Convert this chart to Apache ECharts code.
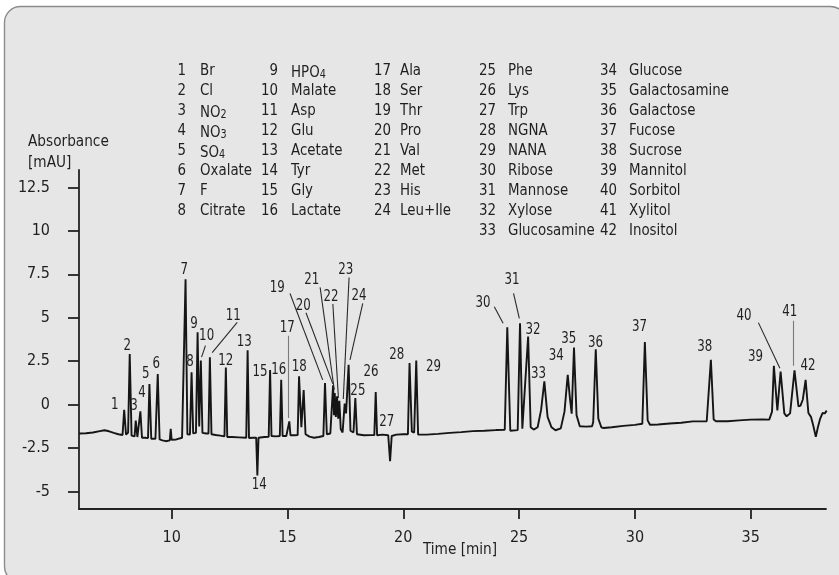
<!DOCTYPE html>
<html>
<head>
<meta charset="utf-8">
<script src="https://cdn.jsdelivr.net/npm/echarts@6/dist/echarts.min.js"></script>
<style>
html,body{margin:0;padding:0;background:#ffffff;}
#chart{width:839px;height:575px;}
</style>
</head>
<body>
<div id="chart"></div>
<script>
// ---------- DATA ----------
// Chromatogram trace: [time (min), absorbance (mAU)]
const tracePoints = [
  [6.0,-1.66],[6.3,-1.64],[6.6,-1.60],[6.9,-1.52],[7.1,-1.47],[7.3,-1.53],[7.5,-1.62],[7.7,-1.70],[7.88,-1.74],
  [7.95,-0.29],[8.03,-1.72],[8.12,-1.6],[8.19,2.92],[8.27,-1.78],[8.40,-1.82],[8.45,-0.92],[8.52,-1.86],
  [8.60,-1.86],[8.65,-0.38],[8.72,-1.90],[8.85,-1.9],[8.98,-1.92],[9.04,1.19],[9.12,-1.96],[9.30,-1.96],
  [9.40,1.76],[9.48,-2.0],[9.6,-2.05],[9.75,-2.1],[9.92,-2.05],[9.96,-1.39],[10.0,-2.02],[10.2,-2.0],
  [10.45,-1.9],[10.53,-1.85],[10.60,7.21],[10.68,-1.7],[10.79,-1.72],[10.86,1.87],[10.93,-1.65],[11.05,-1.62],
  [11.12,4.17],[11.19,-1.25],[11.26,2.54],[11.33,-1.62],[11.5,-1.66],[11.59,-1.66],[11.65,2.73],[11.72,-1.7],
  [11.9,-1.74],[12.1,-1.78],[12.28,-1.82],[12.34,2.14],[12.40,-1.86],[12.6,-1.86],[12.9,-1.88],[13.22,-1.9],
  [13.28,3.13],[13.34,-1.92],[13.5,-1.9],[13.65,-1.9],[13.70,-4.07],[13.75,-1.9],[14.0,-1.86],[14.19,-1.85],
  [14.25,2.0],[14.31,-1.8],[14.5,-1.82],[14.67,-1.8],[14.73,1.43],[14.79,-1.8],[14.95,-1.8],[15.03,-1.8],
  [15.08,-0.96],[15.13,-1.76],[15.3,-1.76],[15.44,-1.75],[15.50,1.64],[15.60,-1.3],[15.70,0.84],[15.78,-1.7],
  [15.95,-1.84],[16.15,-1.9],[16.35,-1.86],[16.55,-1.8],[16.62,1.24],[16.70,-1.7],[16.85,-1.66],[16.97,1.11],
  [17.01,-0.6],[17.04,0.67],[17.09,-0.7],[17.14,0.48],[17.19,-0.8],[17.24,0.23],[17.30,-1.4],[17.38,-1.6],
  [17.47,0.06],[17.53,-0.5],[17.64,2.29],[17.72,-1.5],[17.85,-1.6],[17.93,0.38],[18.0,-1.7],[18.3,-1.76],
  [18.6,-1.75],[18.75,-1.75],[18.81,0.73],[18.87,-1.76],[19.1,-1.72],[19.35,-1.76],[19.43,-3.25],[19.50,-1.8],
  [19.7,-1.72],[20.0,-1.7],[20.20,-1.7],[20.27,2.39],[20.37,-1.55],[20.47,-1.6],[20.56,2.54],[20.64,-1.72],
  [21.0,-1.72],[21.5,-1.68],[22.0,-1.62],[22.5,-1.58],[23.0,-1.52],[23.5,-1.5],[24.0,-1.46],[24.38,-1.44],
  [24.49,4.45],[24.62,-1.5],[24.94,-1.46],[25.04,4.68],[25.14,-1.38],[25.22,-1.42],[25.39,3.92],[25.50,-1.3],
  [25.63,-1.43],[25.80,-1.3],[25.95,-0.3],[26.09,1.34],[26.23,-0.7],[26.40,-1.3],[26.57,-1.47],[26.80,-1.36],
  [26.96,-0.4],[27.10,1.72],[27.20,0.3],[27.27,-0.52],[27.37,3.29],[27.48,-0.6],[27.62,-1.24],[27.9,-1.26],
  [28.15,-1.24],[28.20,-1.0],[28.31,3.19],[28.42,-0.8],[28.55,-1.3],[28.65,-1.34],[29.0,-1.3],[29.5,-1.22],
  [30.0,-1.16],[30.32,-1.1],[30.43,3.61],[30.55,-0.9],[30.65,-1.15],[31.0,-1.14],[31.5,-1.08],[32.0,-1.04],
  [32.5,-0.96],[33.1,-0.95],[33.18,-0.9],[33.28,2.58],[33.40,-0.85],[33.5,-0.95],[34.0,-0.95],[34.5,-0.9],
  [35.0,-0.86],[35.5,-0.85],[35.80,-0.86],[35.92,-0.4],[36.0,2.24],[36.15,-0.33],[36.29,1.91],[36.45,-0.5],
  [36.55,-0.67],[36.7,-0.5],[36.89,1.97],[37.06,-0.10],[37.15,-0.05],[37.25,0.3],[37.37,1.43],[37.49,-0.48],
  [37.6,-0.7],[37.7,-1.2],[37.81,-1.85],[37.9,-1.3],[38.0,-0.8],[38.1,-0.48],[38.2,-0.5],[38.28,-0.34]
];

// Peak number labels: [label, time, absorbance] (label anchor in data units)
const peakLabels = [
  ['1',7.54,0.0],['2',8.08,3.40],['3',8.38,-0.04],['4',8.72,0.67],['5',8.88,1.76],['6',9.33,2.37],
  ['7',10.54,7.78],['8',10.79,2.48],['9',10.96,4.63],['10',11.51,3.97],['11',12.66,5.12],['12',12.34,2.52],
  ['13',13.13,3.63],['14',13.78,-4.63],['15',13.81,1.89],['16',14.62,1.98],['17',14.99,4.40],['18',15.51,2.16],
  ['19',14.56,6.75],['20',15.68,5.69],['21',16.05,7.21],['22',16.88,6.21],['23',17.52,7.78],['24',18.09,6.27],
  ['25',18.04,0.82],['26',18.61,1.89],['27',19.29,-0.96],['28',19.72,2.87],['29',21.30,2.20],['30',23.44,5.83],
  ['31',24.69,7.17],['32',25.60,4.30],['33',25.84,1.76],['34',26.60,2.81],['35',27.14,3.78],['36',28.30,3.54],
  ['37',30.20,4.46],['38',33.02,3.34],['39',35.21,2.74],['40',34.71,5.12],['41',36.68,5.32],['42',37.47,2.24]
];

// Leader lines from a label to its peak: [peak, t1, v1, t2, v2]
const leaderLines = [
  ['10',11.46,3.40,11.29,2.74],['11',12.83,4.74,11.75,3.00],['17',15.04,3.96,15.04,-0.76],
  ['19',15.11,6.40,16.52,1.43],['20',15.80,5.29,16.96,1.20],['21',16.41,6.75,17.02,0.86],
  ['22',16.96,5.79,17.20,0.38],['23',17.66,7.32,17.41,0.33],['24',18.25,5.83,17.70,2.58],
  ['30',23.93,5.64,24.31,4.68],['31',24.76,6.40,25.01,4.97],['40',35.33,4.72,36.26,2.10],
  ['41',36.83,4.83,36.83,2.24]
];
const greyLeaders = ['17','41'];

// Compound key (numbers and names, 5 columns)
const keyNumbers = [
  ['1','2','3','4','5','6','7','8'],
  ['9','10','11','12','13','14','15','16'],
  ['17','18','19','20','21','22','23','24'],
  ['25','26','27','28','29','30','31','32','33'],
  ['34','35','36','37','38','39','40','41','42']
];
const keyNames = [
  ['Br','Cl','NO2','NO3','SO4','Oxalate','F','Citrate'],
  ['HPO4','Malate','Asp','Glu','Acetate','Tyr','Gly','Lactate'],
  ['Ala','Ser','Thr','Pro','Val','Met','His','Leu+Ile'],
  ['Phe','Lys','Trp','NGNA','NANA','Ribose','Mannose','Xylose','Glucosamine'],
  ['Glucose','Galactosamine','Galactose','Fucose','Sucrose','Mannitol','Sorbitol','Xylitol','Inositol']
];

// Axis ticks
const xTicks = [10, 15, 20, 25, 30, 35];
const yTicks = [-5, -2.5, 0, 2.5, 5, 7.5, 10, 12.5];
const xRange = [6, 38.25];
const yRange = [-6, 13.5];
const yTitle = ['Absorbance', '[mAU]'];
const xTitle = 'Time [min]';

// ---------- CHART ----------
const FONT = "'DejaVu Sans Condensed','DejaVu Sans',sans-serif";
const TXT = '#1f1f1f';
const AX = '#222222';
const FS = 16;
const chart = echarts.init(document.getElementById('chart'), null, {renderer: 'canvas'});

function txt(x, y, text, align, sx, extra) {
  return Object.assign({type:'text', x:x, y:y, scaleX:sx, silent:true, z:10,
    style:{x:0, y:0, text:text, font:FS + 'px ' + FONT, fill:TXT, align:align, verticalAlign:'middle'}}, extra || {});
}

// key layout
const colNumRight = [186, 278, 391, 496, 617];
const colNameLeft = [200, 291, 400, 508, 629];
const rowCenter0 = 71, rowStep = 20;
const KEYSX = 0.93;

const graphics = [
  {type:'rect', shape:{x:4.5, y:6.5, width:842, height:576, r:16}, style:{fill:'#e6e6e6', stroke:'#8c8c8c', lineWidth:1.4}, z:-10, silent:true},
  txt(28, 141.5, yTitle[0], 'left', 0.95),
  txt(28, 162.5, yTitle[1], 'left', 0.95),
  txt(460, 550, xTitle, 'center', 0.95)
];
keyNumbers.forEach((col, ci) => {
  col.forEach((num, ri) => {
    const yc = rowCenter0 + ri * rowStep;
    graphics.push(txt(colNumRight[ci], yc, num, 'right', KEYSX));
    const nm = keyNames[ci][ri];
    const m = nm.match(/^([A-Za-z]+)(\d)$/);
    if (m) {
      graphics.push({type:'text', x:colNameLeft[ci], y:yc, scaleX:KEYSX, silent:true, z:10, style:{
        x:0, y:0, text:'{n|' + m[1] + '}{s|' + m[2] + '}', align:'left', verticalAlign:'middle',
        rich:{ n:{fontSize:FS, fontFamily:FONT, fill:TXT, lineHeight:20, verticalAlign:'bottom'},
               s:{fontSize:11.5, fontFamily:FONT, fill:TXT, lineHeight:8, verticalAlign:'bottom'} }
      }});
    } else {
      graphics.push(txt(colNameLeft[ci], yc, nm, 'left', KEYSX));
    }
  });
});

const option = {
  backgroundColor: '#ffffff',
  animation: false,
  graphic: graphics,
  grid: {left: 79, right: 13, top: 170, bottom: 66, containLabel: false},
  xAxis: {
    type: 'value', min: xRange[0], max: xRange[1],
    axisLine: {show: true, onZero: false, lineStyle: {color: AX, width: 1.8}},
    axisTick: {show: true, inside: false, length: 10, customValues: xTicks, lineStyle: {color: AX, width: 1.8}},
    axisLabel: {show: true, customValues: xTicks, margin: 21, fontSize: FS, fontFamily: FONT, color: TXT},
    splitLine: {show: false}
  },
  yAxis: {
    type: 'value', min: yRange[0], max: yRange[1],
    axisLine: {show: true, onZero: false, lineStyle: {color: AX, width: 1.8}},
    axisTick: {show: true, inside: false, length: 11, customValues: yTicks, lineStyle: {color: AX, width: 1.8}},
    axisLabel: {show: true, customValues: yTicks, margin: 29, fontSize: FS, fontFamily: FONT, color: TXT,
      formatter: v => String(v)},
    splitLine: {show: false}
  },
  series: [
    {
      type: 'line', data: tracePoints, showSymbol: false, symbol: 'none', smooth: false,
      lineStyle: {color: '#151515', width: 1.9}, z: 3, silent: true
    },
    {
      type: 'lines', coordinateSystem: 'cartesian2d', silent: true, z: 4,
      data: leaderLines.map(l => ({
        coords: [[l[1], l[2]], [l[3], l[4]]],
        lineStyle: {color: greyLeaders.includes(l[0]) ? '#7a7a7a' : '#2a2a2a', width: 1.1}
      })),
      lineStyle: {width: 1.1, opacity: 1, curveness: 0}
    }
  ]
};
chart.setOption(option);

// peak labels placed through the chart's own scales
const peakGraphics = peakLabels.map(p => {
  const px = chart.convertToPixel({gridIndex: 0}, [p[1], p[2]]);
  return txt(px[0], px[1], p[0], 'center', 0.82);
});
chart.setOption({graphic: graphics.concat(peakGraphics)});
</script>
</body>
</html>
